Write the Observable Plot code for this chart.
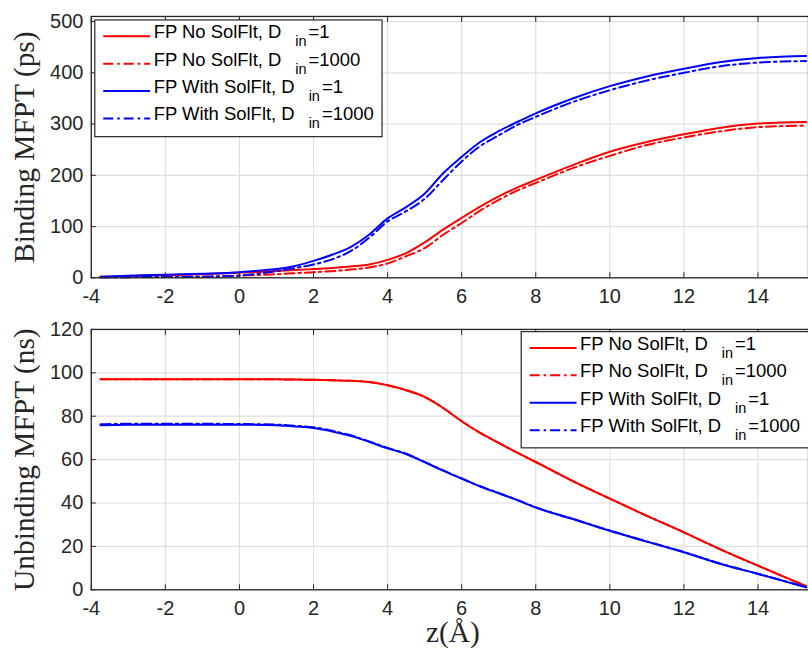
<!DOCTYPE html>
<html><head><meta charset="utf-8">
<script src="https://cdn.jsdelivr.net/npm/d3@7"></script>
<script src="https://cdn.jsdelivr.net/npm/@observablehq/plot@0.6"></script>
<style>
body{margin:0;background:#fff;overflow:hidden;width:808px;height:650px}
#chart svg{display:block;overflow:visible}
</style>
</head><body><div id="chart"></div>
<script>
// ---------- data ----------
const xTicks = [-4, -2, 0, 2, 4, 6, 8, 10, 12, 14];
const yTicksTop = [0, 100, 200, 300, 400, 500];
const yTicksBot = [0, 20, 40, 60, 80, 100, 120];

const zTop = [-3.75, -3, -2, -1, 0, 0.5, 1, 1.5, 2, 2.5, 3, 3.5, 4, 4.5, 5, 5.5, 6, 6.5, 7, 7.5, 8, 9, 10, 11, 12, 13, 14, 15.3];
const bindNoD1      = [2, 3.5, 5, 7, 10, 11.5, 13.5, 15, 17, 19, 22, 26, 35, 48, 69, 94, 117, 139, 159, 176, 191, 220, 246, 265, 280, 293, 301, 304];
const bindNoD1000   = [1, 1.3, 1.6, 2, 4, 5.5, 7, 9, 11, 13, 16, 20, 28, 42, 58, 84, 107, 131, 152, 170, 185, 214, 238, 259, 274, 286, 294, 297];
const bindWithD1    = [2, 4, 6, 8, 11, 14, 17, 23, 33, 45, 60, 84, 116, 138, 164, 204, 236, 265, 286, 304, 321, 350, 374, 393, 408, 421, 429, 433];
const bindWithD1000 = [1, 1.3, 1.6, 2, 4.5, 8, 13, 19, 26, 36, 52, 78, 110, 130, 154, 191, 227, 257, 278, 298, 314, 343, 366, 385, 400, 413, 420, 423];

const zBot = [-3.75, -3, -2, -1, 0, 1, 1.5, 2, 2.5, 3, 3.5, 4, 4.5, 5, 5.5, 6, 6.5, 7, 7.5, 8, 9, 10, 11, 12, 13, 14, 15.3];
const unbNoD1       = [97, 97, 97, 97, 97, 97, 96.9, 96.8, 96.6, 96.3, 95.8, 94.3, 92, 88.9, 83.8, 77.7, 72.3, 67.7, 63.2, 58.9, 50.1, 42, 34.1, 26.5, 18.5, 11.1, 1.7];
const unbNoD1000    = [97, 97, 97, 97, 97, 97, 96.9, 96.8, 96.6, 96.3, 95.8, 94.3, 92, 88.9, 83.8, 77.7, 72.3, 67.7, 63.2, 58.9, 50.1, 42, 34.1, 26.5, 18.5, 11.1, 1.7];
const unbWithD1     = [75.8, 76.1, 76.1, 76.1, 76.1, 75.8, 75.3, 74.6, 73, 71, 68.2, 65.2, 62.6, 58.8, 54.9, 51.2, 47.6, 44.5, 41.3, 37.9, 32.6, 27.2, 22.2, 17.3, 11.9, 7.3, 1.2];
const unbWithD1000  = [76.3, 76.5, 76.5, 76.5, 76.4, 76.1, 75.6, 74.9, 73.3, 71.2, 68.4, 65.4, 62.7, 58.9, 55, 51.3, 47.7, 44.6, 41.4, 38, 32.7, 27.3, 22.3, 17.4, 12, 7.4, 1.2];

const legendMain = ["FP No SolFlt, D", "FP No SolFlt, D", "FP With SolFlt, D", "FP With SolFlt, D"];
const legendSub = ["in", "in", "in", "in"];
const legendTail = ["=1", "=1000", "=1", "=1000"];

// ---------- styles ----------
const COLORS = ["#ff0000", "#ff0000", "#0000ff", "#0000ff"];
const DASHES = [null, "10,4,2.5,4", null, "10,4,2.5,4"];
const AX = "#262626";
const SANS = "'Liberation Sans', Arial, Helvetica, sans-serif";
const SERIF = "'Liberation Serif', 'Times New Roman', serif";
const fmt = d => String(d);

function rows(z, v) { return z.map((zz, i) => ({z: zz, v: v[i]})); }

function panel({z, series, yDomain, yTicks, height, marginTop, marginBottom, yLabel, xLabel}) {
  const marks = [
    Plot.gridX(xTicks, {stroke: "#dfdfdf", strokeOpacity: 1, strokeWidth: 1.2}),
    Plot.gridY(yTicks, {stroke: "#dfdfdf", strokeOpacity: 1, strokeWidth: 1.2}),
    ...series.map((vals, i) => Plot.line(rows(z, vals), {
      x: "z", y: "v", stroke: COLORS[i], strokeWidth: 2,
      strokeDasharray: DASHES[i], curve: "monotone-x"
    })),
    Plot.frame({stroke: AX, strokeWidth: 1.3}),
    Plot.axisX(xTicks, {anchor: "bottom", tickSize: -5, tickPadding: 16, tickFormat: fmt, color: AX, fontSize: 20, fontFamily: SANS, label: null}),
    Plot.axisX(xTicks, {anchor: "top", tickSize: -5, tickFormat: () => "", color: AX, label: null}),
    Plot.axisY(yTicks, {anchor: "left", tickSize: -5, tickPadding: 13, tickFormat: fmt, color: AX, fontSize: 20, fontFamily: SANS, label: null}),
    Plot.text([yLabel], {text: d => d, frameAnchor: "left", textAnchor: "middle", lineAnchor: "middle", rotate: -90, dx: -67, fontSize: 29.5, fontFamily: SERIF, fill: AX})
  ];
  if (xLabel) marks.push(Plot.text([xLabel], {text: d => d, frameAnchor: "bottom", textAnchor: "middle", lineAnchor: "middle", dy: 43, dx: 3, fontSize: 29.5, fontFamily: SERIF, fill: AX}));
  return Plot.plot({
    width: 810, height, marginLeft: 91, marginRight: 0, marginTop, marginBottom,
    style: {background: "transparent", overflow: "visible"},
    x: {domain: [-4, 15.364]},
    y: {domain: yDomain},
    marks
  });
}

function addLegend(svg, bx, by, bw, bh) {
  const g = d3.select(svg).append("g").attr("text-anchor", "start");
  g.append("rect").attr("x", bx).attr("y", by).attr("width", bw).attr("height", bh)
    .attr("fill", "#fff").attr("stroke", AX).attr("stroke-width", 1.2);
  for (let i = 0; i < 4; i++) {
    const base = by + 18.3 + i * 27.5;
    g.append("line").attr("x1", bx + 8.5).attr("x2", bx + 55.5).attr("y1", base - 2).attr("y2", base - 2)
      .attr("stroke", COLORS[i]).attr("stroke-width", 2).attr("stroke-dasharray", DASHES[i]);
    const t = g.append("text").attr("x", bx + 59).attr("y", base).attr("text-anchor", "start")
      .attr("font-family", SANS).attr("font-size", 18.5).attr("fill", "#000");
    t.append("tspan").text(legendMain[i]);
    t.append("tspan").attr("dx", 14).attr("dy", 8).attr("font-size", 14.5).text(legendSub[i]);
    t.append("tspan").attr("dx", 2).attr("dy", -8).text(legendTail[i]);
  }
}

const topChart = panel({
  z: zTop, series: [bindNoD1, bindNoD1000, bindWithD1, bindWithD1000],
  yDomain: [0, 510], yTicks: yTicksTop, height: 304, marginTop: 16, marginBottom: 26,
  yLabel: "Binding MFPT (ps)"
});
const botChart = panel({
  z: zBot, series: [unbNoD1, unbNoD1000, unbWithD1, unbWithD1000],
  yDomain: [0, 120], yTicks: yTicksBot, height: 346, marginTop: 26, marginBottom: 59,
  yLabel: "Unbinding MFPT (ns)", xLabel: "z(Å)"
});
addLegend(topChart, 95, 20, 288, 117);
addLegend(botChart, 522.5, 28.7, 292, 116.5);
document.getElementById("chart").append(topChart, botChart);
</script>
</body></html>
